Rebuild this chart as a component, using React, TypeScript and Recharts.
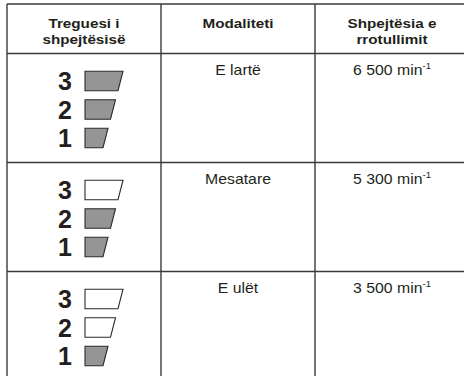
import React from 'react';
import { ScatterChart, Scatter, XAxis, YAxis, ReferenceLine } from 'recharts';

const headers = [['Treguesi i', 'shpejtësisë'], ['Modaliteti'], ['Shpejtësia e', 'rrotullimit']];
const modes = ['E lartë', 'Mesatare', 'E ulët'];
const speeds = [6500, 5300, 3500];
const speedUnit = 'min';
const unitExponent = '-1';
const levels = [3, 2, 1];
const litUpTo = [3, 2, 1];

// x runs in table columns, y in table rows (header sits above row 0)
const COL_W = 154;
const ROW_H = 109;
const X_MIN = -7 / COL_W;
const X_MAX = 457 / COL_W;
const Y_MIN = -53.5 / ROW_H;
const Y_MAX = 322.5 / ROW_H;
const TOP = -49.5 / ROW_H;
const DIGIT_X = 58 / COL_W;
const LAMP_X = 78 / COL_W;
const FIRST_LEVEL = 27.5 / ROW_H;
const LEVEL_STEP = 28.5 / ROW_H;

const FONT = '"Liberation Sans", Arial, Helvetica, sans-serif';
const INK = '#231f20';
const LINE = '#3a3a3a';
const STRETCH = 'scale(1.13 1)';

const fmt = (n: number) => `${Math.floor(n / 1000)} ${String(n % 1000).padStart(3, '0')}`;

const headerData = headers.map((lines, i) => ({ x: i + 0.5, y: TOP, lines }));
const modeData = modes.map((label, i) => ({ x: 1.5, y: i, label }));
const speedData = speeds.map((v, i) => ({ x: 2.5, y: i, label: fmt(v) }));
const levelRows = modes.flatMap((_, i) =>
  levels.map((level) => ({
    y: i + FIRST_LEVEL + (3 - level) * LEVEL_STEP,
    level,
    lit: level <= litUpTo[i],
  }))
);
const digitData = levelRows.map((r) => ({ ...r, x: DIGIT_X }));
const lampData = levelRows.map((r) => ({ ...r, x: LAMP_X }));

const HeaderCell = (p: any) => (
  <g transform={`translate(${p.cx} ${p.cy}) ${STRETCH}`}>
    {p.payload.lines.map((t: string, k: number) => (
      <text key={k} x={0} y={24.5 + k * 15.5} textAnchor="middle" fontFamily={FONT} fontWeight="bold" fontSize={13.5} fill={INK}>
        {t}
      </text>
    ))}
  </g>
);

const ModeCell = (p: any) => (
  <g transform={`translate(${p.cx} ${p.cy}) ${STRETCH}`}>
    <text x={0} y={21.5} textAnchor="middle" fontFamily={FONT} fontSize={14} fill={INK}>
      {p.payload.label}
    </text>
  </g>
);

const SpeedCell = (p: any) => (
  <g transform={`translate(${p.cx} ${p.cy}) ${STRETCH}`}>
    <text x={0} y={21.5} textAnchor="middle" fontFamily={FONT} fontSize={14} fill={INK}>
      {p.payload.label} {speedUnit}
      <tspan dy={-6} fontSize={8.5}>{unitExponent}</tspan>
    </text>
  </g>
);

const Digit = (p: any) => (
  <text x={p.cx} y={p.cy + 9} textAnchor="middle" fontFamily={FONT} fontWeight="bold" fontSize={25} fill={INK}>
    {p.payload.level}
  </text>
);

const Lamp = (p: any) => {
  const top = 15.5 + 7.5 * p.payload.level;
  const h = 9.75;
  const d = `M${p.cx},${p.cy - h} L${p.cx + top},${p.cy - h} L${p.cx + top - 5},${p.cy + h} L${p.cx},${p.cy + h} Z`;
  return <path d={d} fill={p.payload.lit ? '#959595' : '#ffffff'} stroke="#2a2a2a" strokeWidth={1.1} strokeLinejoin="miter" />;
};

export default function App() {
  const hLines = [TOP, 0, 1, 2];
  const vLines = [0, 1, 2];
  return (
    <div style={{ position: 'absolute', left: 0, top: 0, background: '#fff' }}>
      <ScatterChart width={464} height={376} margin={{ top: 0, right: 0, bottom: 0, left: 0 }}>
        <XAxis type="number" dataKey="x" domain={[X_MIN, X_MAX]} allowDataOverflow hide />
        <YAxis type="number" dataKey="y" domain={[Y_MIN, Y_MAX]} allowDataOverflow reversed hide />
        {hLines.map((y) => (
          <ReferenceLine key={`h${y}`} segment={[{ x: 0, y }, { x: X_MAX, y }]} stroke={LINE} strokeWidth={1.4} ifOverflow="visible" />
        ))}
        {vLines.map((x) => (
          <ReferenceLine key={`v${x}`} segment={[{ x, y: TOP }, { x, y: Y_MAX }]} stroke={LINE} strokeWidth={1.4} ifOverflow="visible" />
        ))}
        <Scatter data={headerData} shape={HeaderCell} isAnimationActive={false} />
        <Scatter data={modeData} shape={ModeCell} isAnimationActive={false} />
        <Scatter data={speedData} shape={SpeedCell} isAnimationActive={false} />
        <Scatter data={digitData} shape={Digit} isAnimationActive={false} />
        <Scatter data={lampData} shape={Lamp} isAnimationActive={false} />
      </ScatterChart>
    </div>
  );
}
